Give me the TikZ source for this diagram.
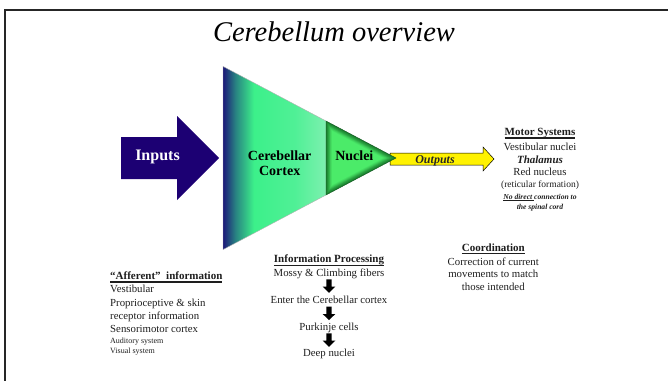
\documentclass[tikz,border=0pt]{standalone}
\usepackage{fontspec}
\setmainfont{Liberation Serif}
\usetikzlibrary{calc}
\definecolor{cnavy}{RGB}{28,24,120}
\definecolor{cteal}{RGB}{40,130,130}
\definecolor{cgreen}{RGB}{60,240,138}
\definecolor{cgreentwo}{RGB}{80,240,150}
\definecolor{clight}{RGB}{125,240,175}
\definecolor{inblue}{RGB}{28,0,115}
\definecolor{nlight}{RGB}{75,235,105}
\definecolor{ndark}{RGB}{25,125,45}
\definecolor{txtgray}{RGB}{30,30,30}
\pgfdeclarehorizontalshading{cortexshade}{100bp}{color(0bp)=(cnavy); color(25bp)=(cnavy); color(31bp)=(cteal); color(40bp)=(cgreen); color(60bp)=(cgreentwo); color(75bp)=(clight); color(100bp)=(clight)}
\newsavebox\ulbox
\newcommand\myul[3]{\sbox\ulbox{#3}\rlap{\rule[#1]{\wd\ulbox}{#2}}\usebox\ulbox}
\newcommand\fs[1]{\fontsize{#1}{#1}\selectfont}
\begin{document}
\begin{tikzpicture}[x=1pt,y=-1pt,
  txt/.style={inner sep=0pt, anchor=base, text=txtgray, font=\fs{10.8}},
  txtl/.style={txt, anchor=base west},
  downarr/.pic={\fill[black] (-2.7,-6.7) -- (2.7,-6.7) -- (2.7,0.6) -- (6.3,0.6) -- (0,6.7) -- (-6.3,0.6) -- (-2.7,0.6) -- cycle;}
]
\useasboundingbox (0,0) rectangle (668,380);
% frame
\draw[line width=2.2pt, black!85] (5.2,383) -- (5.2,10) -- (671,10);
% title
\node[inner sep=0pt, anchor=base, font=\fs{28.5}\itshape] (title) at (334,41.5) {Cerebellum overview};
% input arrow
\fill[inblue] (121,137) -- (177,137) -- (177,116) -- (219,158) -- (177,200) -- (177,179) -- (121,179) -- cycle;
\node[inner sep=0pt, anchor=base, text=white, font=\fs{16}\bfseries] (inputs) at (157.5,160.7) {Inputs};
% output arrow
\filldraw[fill=yellow, draw=black, line width=0.5pt] (390,153) -- (483,153) -- (483,147) -- (494,159) -- (483,171) -- (483,165) -- (390,165) -- cycle;
% cortex
\shade[shading=cortexshade, draw=gray!60, line width=0.4pt] (223,66.4) -- (326,121) -- (326,195) -- (223,249.6) -- cycle;
% nuclei (bevelled)
\coordinate (nA) at (326,121);
\coordinate (nB) at (396,158);
\coordinate (nC) at (326,195);
\coordinate (nI) at (348.3,158);
\foreach \k/\c in {1/0,0.96/14,0.92/28,0.88/42,0.85/56,0.82/70,0.79/82,0.76/92,0.73/100}{
  \fill[nlight!\c!ndark] ($(nI)!\k!(nA)$) -- ($(nI)!\k!(nB)$) -- ($(nI)!\k!(nC)$) -- cycle;
}
\draw[ndark!70!black, line width=0.4pt] (nA) -- (nB) -- (nC) -- cycle;
\node[txt, text=black, font=\fs{14}\bfseries] (cx1) at (279.7,160) {Cerebellar};
\node[txt, text=black, font=\fs{14}\bfseries] (cx2) at (279.7,175) {Cortex};
\node[txt, text=black, font=\fs{14}\bfseries] (nuc) at (354.3,160.7) {Nuclei};
\node[txt, text=black!85, font=\fs{12}\bfseries\itshape] (outp) at (435,163.3) {Outputs};
% motor systems
\node[txt, font=\fs{11}\bfseries] (ms1) at (540,135.7) {\myul{-3pt}{1.4pt}{Motor Systems}};
\node[txt] (ms2) at (540,150) {Vestibular nuclei};
\node[txt, font=\fs{11}\bfseries\itshape] (ms3) at (540,163) {Thalamus};
\node[txt] (ms4) at (540,175.7) {Red nucleus};
\node[txt, font=\fs{9.5}] (ms5) at (540,187.3) {(reticular formation)};
\node[txt, font=\fs{7.6}\bfseries\itshape] (ms6) at (540,199.3) {\myul{-1.6pt}{0.7pt}{No direct }connection to};
\node[txt, font=\fs{7.6}\bfseries\itshape] (ms7) at (540,209) {the spinal cord};
% afferent
\node[txtl, font=\fs{11}\bfseries] (af1) at (110,279) {\myul{-4pt}{2pt}{“Afferent”\ \ information}};
\node[txtl] (af2) at (110,292.7) {Vestibular};
\node[txtl] (af3) at (110,306) {Proprioceptive \& skin};
\node[txtl] (af4) at (110,319) {receptor information};
\node[txtl] (af5) at (110,332.7) {Sensorimotor cortex};
\node[txtl, font=\fs{8}] (af6) at (110,343.3) {Auditory system};
\node[txtl, font=\fs{8}] (af7) at (110,353.3) {Visual system};
% information processing
\node[txt, font=\fs{11}\bfseries] (ip0) at (329,262.7) {\myul{-3pt}{1.2pt}{Information Processing}};
\node[txt] (ip1) at (329,276) {Mossy \& Climbing fibers};
\node[txt] (ip2) at (329,303.3) {Enter the Cerebellar cortex};
\node[txt] (ip3) at (329,330.7) {Purkinje cells};
\node[txt] (ip4) at (329,356.7) {Deep nuclei};
\pic at ($(ip1.base)!0.5!(ip2.base)+(0,-3.6)$) {downarr};
\pic at ($(ip2.base)!0.5!(ip3.base)+(0,-3.6)$) {downarr};
\pic at ($(ip3.base)!0.5!(ip4.base)+(0,-3.6)$) {downarr};
% coordination
\node[txt, font=\fs{11}\bfseries] (co1) at (493.3,251) {\myul{-3pt}{1.4pt}{Coordination}};
\node[txt] (co2) at (493.3,265) {Correction of current};
\node[txt] (co3) at (493.3,277.7) {movements to match};
\node[txt] (co4) at (493.3,290.7) {those intended};
\end{tikzpicture}
\end{document}
